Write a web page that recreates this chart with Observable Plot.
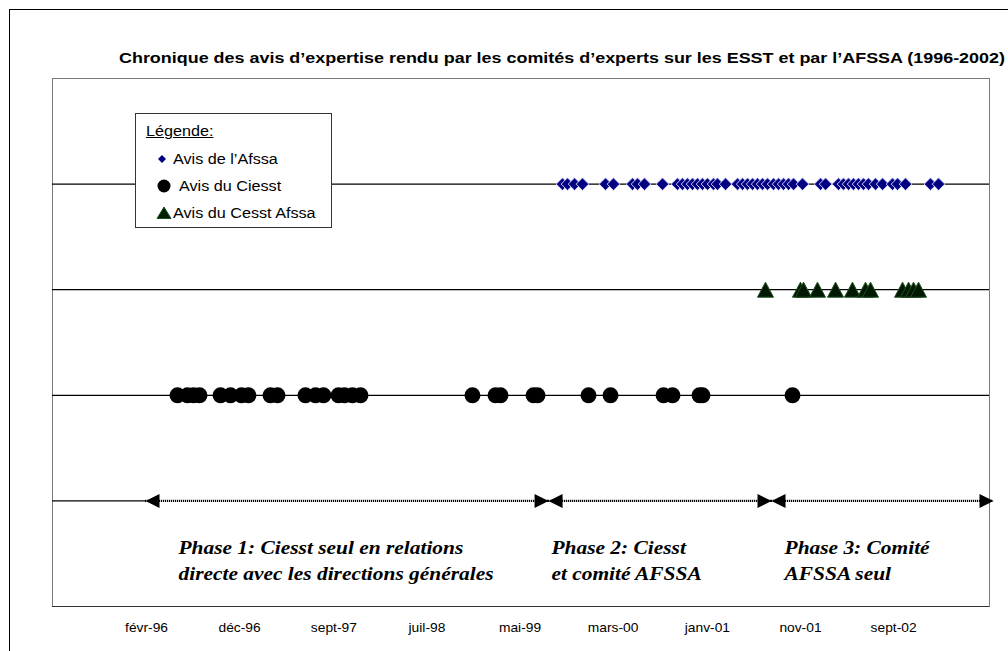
<!DOCTYPE html>
<html>
<head>
<meta charset="utf-8">
<script src="https://cdn.jsdelivr.net/npm/d3@7"></script>
<script src="https://cdn.jsdelivr.net/npm/@observablehq/plot@0.6"></script>
<style>
  html, body { margin: 0; padding: 0; background: #fff; width: 1008px; height: 651px; overflow: hidden; position: relative; }
  #outer { position: absolute; left: 9px; top: 9px; width: 1100px; height: 700px; border-left: 1px solid #000; border-top: 1px solid #000; pointer-events: none; }
  #title { position: relative; height: 70px; box-sizing: border-box; padding-top: 49px; padding-left: 119px; font: bold 15px "Liberation Sans", Arial, sans-serif; line-height: 18px; white-space: nowrap; color: #000; }
  #title span { display: inline-block; transform: scaleX(1.195); transform-origin: 0 50%; }
  #chart { position: relative; height: 581px; }
  #legend { position: absolute; left: 135px; top: 113px; width: 197px; height: 115px; box-sizing: border-box; border: 1px solid #333; background: #fff; font: 14px "Liberation Sans", Arial, sans-serif; color: #000; }
  #legend .row { position: absolute; line-height: 16px; white-space: nowrap; transform: scaleX(1.155); transform-origin: 0 50%; }
  #legend svg { position: absolute; }
</style>
</head>
<body>
<div id="outer"></div>
<div id="title"><span>Chronique des avis d’expertise rendu par les comités d’experts sur les ESST et par l’AFSSA (1996-2002)</span></div>
<div id="chart"></div>
<div id="legend"></div>
<script>
// ---- Data (x values in decimal years) ----
const xMin = 1995.282, xMax = 2003.535;
const tickValues = [1996.11, 1996.93, 1997.76, 1998.58, 1999.40, 2000.22, 2001.05, 2001.87, 2002.69];
const tickLabels = ["févr-96", "déc-96", "sept-97", "juil-98", "mai-99", "mars-00", "janv-01", "nov-01", "sept-02"];

const afssaDates = [1999.774, 1999.818, 1999.880, 1999.950, 2000.153, 2000.223, 2000.391, 2000.435, 2000.496,
  2000.655, 2000.787, 2000.831, 2000.875, 2000.919, 2000.963, 2001.007, 2001.051, 2001.104, 2001.139, 2001.210,
  2001.316, 2001.360, 2001.404, 2001.448, 2001.492, 2001.536, 2001.580, 2001.633, 2001.677, 2001.721, 2001.765,
  2001.809, 2001.888, 2002.047, 2002.091, 2002.205, 2002.249, 2002.293, 2002.337, 2002.381, 2002.425, 2002.469,
  2002.531, 2002.593, 2002.681, 2002.725, 2002.795, 2003.015, 2003.086];

const cesstDates = [2001.562, 2001.870, 2001.897, 2002.020, 2002.179, 2002.328, 2002.443, 2002.487,
  2002.769, 2002.822, 2002.866, 2002.910];

const ciesstDates = [1996.383, 1996.471, 1996.524, 1996.577, 1996.762, 1996.850, 1996.947, 1997.008,
  1997.202, 1997.264, 1997.510, 1997.599, 1997.669, 1997.801, 1997.854, 1997.924, 1997.995,
  1998.981, 1999.184, 1999.228, 1999.519, 1999.554, 2000.003, 2000.197, 2000.664, 2000.743,
  2000.981, 2001.007, 2001.800];

const rowNames = ["Phases", "Ciesst", "Cesst Afssa", "Afssa"];
const rowValues = [1, 2, 3, 4];

const phaseStarts = [1996.101, 1999.651, 2001.615];
const phaseEnds = [1999.651, 2001.615, 2003.570];
const phaseLabelX = [1996.392, 1999.677, 2001.730];
const phaseLabels = [
  "Phase 1: Ciesst seul en relations\ndirecte avec les directions générales",
  "Phase 2: Ciesst\net comité AFSSA",
  "Phase 3: Comité\nAFSSA seul"
];

const legendTitle = "Légende:";
const legendItems = ["Avis de l’Afssa", "Avis du Ciesst", "Avis du Cesst Afssa"];

// ---- Build ----
const phases = phaseStarts.map((s, i) => ({start: s, end: phaseEnds[i], labelX: phaseLabelX[i], label: phaseLabels[i]}));
const labelOf = new Map(tickValues.map((t, i) => [t, tickLabels[i]]));

const diamondSym = {draw(c) { c.moveTo(0, -6.3); c.lineTo(6.3, 0); c.lineTo(0, 6.3); c.lineTo(-6.3, 0); c.closePath(); }};
const triSym = {draw(c) { c.moveTo(0, -7.5); c.lineTo(8, 7.5); c.lineTo(-8, 7.5); c.closePath(); }};
const arrowL = {draw(c) { c.moveTo(0, 0); c.lineTo(14, -7); c.lineTo(14, 7); c.closePath(); }};
const arrowR = {draw(c) { c.moveTo(0, 0); c.lineTo(-14, -7); c.lineTo(-14, 7); c.closePath(); }};

const [yPhase, yCiesst, yCesst, yAfssa] = rowValues;

const chart = Plot.plot({
  width: 1008,
  height: 581,
  marginTop: 8,
  marginBottom: 45,
  marginLeft: 52,
  marginRight: 19,
  style: {fontFamily: "'Liberation Sans', Arial, sans-serif", fontSize: "12px", color: "#000", background: "transparent", overflow: "visible"},
  x: {domain: [xMin, xMax], axis: null},
  y: {domain: [0, 5], axis: null},
  marks: [
    Plot.frame({stroke: "#7a7a7a"}),
    Plot.ruleY([yCiesst, yCesst, yAfssa], {stroke: "#000", strokeWidth: 1.3}),
    Plot.ruleY([yPhase], {x1: xMin, x2: phaseStarts[0], stroke: "#000", strokeWidth: 1.3}),
    Plot.ruleY(phases, {x1: "start", x2: "end", y: yPhase, stroke: "#000", strokeWidth: 2.2, strokeDasharray: "1.2,0.8"}),
    Plot.dot(phases, {x: "start", y: yPhase, symbol: arrowL, fill: "#000"}),
    Plot.dot(phases, {x: "end", y: yPhase, symbol: arrowR, fill: "#000"}),
    Plot.text(phases, {x: "labelX", y: 0.45, text: "label", textAnchor: "start", lineAnchor: "middle",
      fontFamily: "'Liberation Serif', 'Times New Roman', serif", fontWeight: "bold", fontStyle: "italic",
      fontSize: 18, lineHeight: 1.44, fill: "#000"}),
    Plot.dot(ciesstDates, {x: d => d, y: yCiesst, r: 8, fill: "#000"}),
    Plot.dot(cesstDates, {x: d => d, y: yCesst, symbol: triSym, fill: "#001800", stroke: "#1f4f1f", strokeWidth: 1}),
    Plot.dot(afssaDates, {x: d => d, y: yAfssa, symbol: diamondSym, fill: "#000080", stroke: "#d0d0ff", strokeWidth: 1}),
    Plot.ruleY([0], {stroke: "#333"}),
    Plot.axisX(tickValues, {anchor: "bottom", tickSize: 0, tickPadding: 17, tickFormat: d => labelOf.get(d), fontSize: 12, label: null})
  ]
});
document.getElementById("chart").appendChild(chart);

// The reference's lettering is horizontally stretched; widen the text glyphs to match.
function stretch(nodes, s) {
  nodes.forEach(el => {
    const tr = el.getAttribute("transform");
    if (tr) el.setAttribute("transform", tr + ` scale(${s},1)`);
    else {
      const x = +el.getAttribute("x") || 0;
      el.setAttribute("transform", `translate(${x},0) scale(${s},1) translate(${-x},0)`);
    }
  });
}
stretch(chart.querySelectorAll('g[aria-label="text"] text'), 1.19);
stretch(chart.querySelectorAll('g[aria-label="x-axis tick label"] text'), 1.15);

// ---- Legend (inside plot area, as in the reference) ----
const legend = document.getElementById("legend");
const rowTops = [9, 37, 64, 91];
const t = document.createElement("div");
t.className = "row";
t.style.left = "10px"; t.style.top = rowTops[0] + "px"; t.style.textDecoration = "underline";
t.textContent = legendTitle;
legend.appendChild(t);
const symSvgs = [
  '<svg width="16" height="16" viewBox="-8 -8 16 16" style="left:18px;top:' + rowTops[1] + 'px"><path d="M0,-4L4,0L0,4L-4,0Z" fill="#000080"/></svg>',
  '<svg width="16" height="16" viewBox="-8 -8 16 16" style="left:20px;top:' + rowTops[2] + 'px"><circle r="6.5" fill="#000"/></svg>',
  '<svg width="16" height="16" viewBox="-8 -8 16 16" style="left:20px;top:' + rowTops[3] + 'px"><path d="M0,-6L7,5.5L-7,5.5Z" fill="#002200" stroke="#1f4f1f"/></svg>'
];
const textLefts = [37, 43, 37];
legendItems.forEach((label, i) => {
  legend.insertAdjacentHTML("beforeend", symSvgs[i]);
  const r = document.createElement("div");
  r.className = "row";
  r.style.left = textLefts[i] + "px"; r.style.top = rowTops[i + 1] + "px";
  r.textContent = label;
  legend.appendChild(r);
});
</script>
</body>
</html>
